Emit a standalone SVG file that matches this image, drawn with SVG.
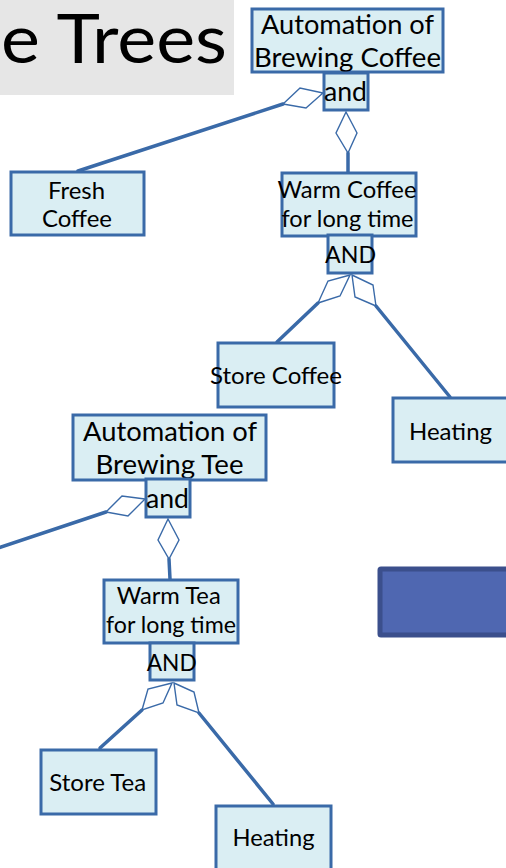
<svg xmlns="http://www.w3.org/2000/svg" width="506" height="868" viewBox="0 0 506 868">
  <style>
    .node rect.box { fill: #daeef3; stroke: #3a6aa8; stroke-width: 3; }
    .node text { font-family: Lato, "Open Sans", "DejaVu Sans", sans-serif; fill: #000; text-anchor: middle; }
    .conn line { stroke: #3a6aa8; stroke-width: 3.5; stroke-linecap: round; }
    .conn polygon { fill: #fff; stroke: #3a6aa8; stroke-width: 1.4; stroke-linejoin: miter; }
  </style>

  <!-- title strip -->
  <g id="title">
    <rect x="0" y="0" width="234" height="95" fill="#e6e6e6"/>
    <text x="227" y="63" font-family="Lato, 'Open Sans', sans-serif" font-size="67" text-anchor="end" textLength="226" lengthAdjust="spacingAndGlyphs" fill="#000">e Trees</text>
  </g>

  <!-- connectors -->
  <g id="connectors" class="conn">
    <!-- coffee tree -->
    <line x1="283" y1="104" x2="78" y2="171"/>
    <polygon points="323,93 300,88 283,104 306,108"/>
    <line x1="348" y1="153" x2="348" y2="172"/>
    <polygon points="346,112 336,133 348,153 357,133"/>
    <line x1="318" y1="303" x2="277" y2="342"/>
    <polygon points="350,275 328,281 318,303 340,296"/>
    <line x1="376" y1="306" x2="450" y2="397"/>
    <polygon points="352,275 373,285 376,306 355,297"/>
    <!-- tea tree -->
    <line x1="106" y1="512" x2="-2" y2="548"/>
    <polygon points="145,499 122,496 106,512 128,516"/>
    <line x1="169" y1="559" x2="170" y2="579"/>
    <polygon points="168,519 158,540 169,559 179,540"/>
    <line x1="142" y1="710" x2="100" y2="748"/>
    <polygon points="172,683 148,689 142,710 163,703"/>
    <line x1="199" y1="713" x2="273" y2="804"/>
    <polygon points="174,683 194,692 199,713 177,705"/>
  </g>

  <!-- coffee tree nodes -->
  <g id="brew-coffee" class="node">
    <rect class="box" x="252" y="9" width="191" height="63"/>
    <text x="347.5" y="34" font-size="27.5" textLength="173" lengthAdjust="spacingAndGlyphs">Automation of</text>
    <text x="347.5" y="67" font-size="27.5" textLength="187" lengthAdjust="spacingAndGlyphs">Brewing Coffee</text>
  </g>
  <g id="brew-coffee-and" class="node">
    <rect class="box" x="324" y="73" width="44" height="37"/>
    <text x="345.5" y="101" font-size="27" textLength="43" lengthAdjust="spacingAndGlyphs">and</text>
  </g>
  <g id="fresh-coffee" class="node">
    <rect class="box" x="11" y="172" width="133" height="63"/>
    <text x="76.5" y="199" font-size="24" textLength="57" lengthAdjust="spacingAndGlyphs">Fresh</text>
    <text x="77" y="227" font-size="24" textLength="70" lengthAdjust="spacingAndGlyphs">Coffee</text>
  </g>
  <g id="warm-coffee" class="node">
    <rect class="box" x="282" y="173" width="134" height="63"/>
    <text x="347" y="198" font-size="24" textLength="139" lengthAdjust="spacingAndGlyphs">Warm Coffee</text>
    <text x="347.5" y="226.5" font-size="24" textLength="132" lengthAdjust="spacingAndGlyphs">for long time</text>
  </g>
  <g id="warm-coffee-and" class="node">
    <rect class="box" x="328" y="235" width="44" height="38"/>
    <text x="350.5" y="263" font-size="24" textLength="51" lengthAdjust="spacingAndGlyphs">AND</text>
  </g>
  <g id="store-coffee" class="node">
    <rect class="box" x="218" y="343" width="116" height="64"/>
    <text x="276" y="384" font-size="24" textLength="132" lengthAdjust="spacingAndGlyphs">Store Coffee</text>
  </g>
  <g id="heating-coffee" class="node">
    <rect class="box" x="393" y="398" width="120" height="64"/>
    <text x="450.5" y="440" font-size="24" textLength="83" lengthAdjust="spacingAndGlyphs">Heating</text>
  </g>

  <!-- tea tree nodes -->
  <g id="brew-tea" class="node">
    <rect class="box" x="73" y="415" width="193" height="65"/>
    <text x="170" y="441" font-size="27.5" textLength="174" lengthAdjust="spacingAndGlyphs">Automation of</text>
    <text x="169.5" y="474" font-size="27.5" textLength="148" lengthAdjust="spacingAndGlyphs">Brewing Tee</text>
  </g>
  <g id="brew-tea-and" class="node">
    <rect class="box" x="146" y="479" width="44" height="38"/>
    <text x="167.5" y="508" font-size="27" textLength="43" lengthAdjust="spacingAndGlyphs">and</text>
  </g>
  <g id="warm-tea" class="node">
    <rect class="box" x="104" y="580" width="134" height="63"/>
    <text x="168.7" y="604" font-size="24" textLength="104" lengthAdjust="spacingAndGlyphs">Warm Tea</text>
    <text x="171" y="633" font-size="24" textLength="130" lengthAdjust="spacingAndGlyphs">for long time</text>
  </g>
  <g id="warm-tea-and" class="node">
    <rect class="box" x="150" y="643" width="44" height="37"/>
    <text x="171.7" y="671" font-size="24" textLength="50" lengthAdjust="spacingAndGlyphs">AND</text>
  </g>
  <g id="store-tea" class="node">
    <rect class="box" x="41" y="750" width="115" height="64"/>
    <text x="97.7" y="791" font-size="24" textLength="97" lengthAdjust="spacingAndGlyphs">Store Tea</text>
  </g>
  <g id="heating-tea" class="node">
    <rect class="box" x="216" y="806" width="115" height="70"/>
    <text x="273.5" y="846" font-size="24" textLength="82" lengthAdjust="spacingAndGlyphs">Heating</text>
  </g>

  <!-- solid blue block -->
  <g id="blue-block">
    <rect x="380" y="569" width="140" height="66" fill="#4f67b1" stroke="#3b4f8c" stroke-width="5" rx="1"/>
  </g>
</svg>
